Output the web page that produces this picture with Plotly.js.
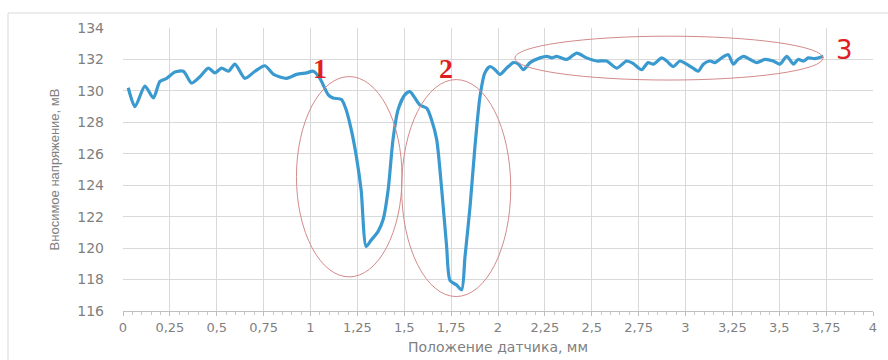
<!DOCTYPE html>
<html>
<head>
<meta charset="utf-8">
<script src="https://cdn.plot.ly/plotly-3.0.1.min.js"></script>
<style>html,body{margin:0;padding:0;background:#fff;}#chart{width:888px;height:360px;}</style>
</head>
<body>
<div id="chart"></div>
<script>
// Sensor position, mm
const positionMm = [0.028,0.064,0.117,0.162,0.197,0.233,0.277,0.322,0.366,0.41,0.455,0.49,0.526,0.562,0.597,0.65,0.704,0.757,0.803,0.873,0.926,0.98,1.015,1.05,1.095,1.12,1.165,1.19,1.217,1.245,1.27,1.297,1.323,1.36,1.387,1.414,1.44,1.467,1.503,1.53,1.557,1.584,1.62,1.646,1.673,1.7,1.726,1.744,1.779,1.806,1.824,1.851,1.877,1.904,1.93,1.957,1.984,2.01,2.046,2.082,2.109,2.135,2.171,2.224,2.26,2.287,2.313,2.367,2.42,2.473,2.527,2.58,2.633,2.686,2.72,2.766,2.8,2.829,2.873,2.9,2.935,2.97,3.006,3.04,3.068,3.095,3.13,3.157,3.193,3.228,3.255,3.28,3.31,3.344,3.38,3.424,3.468,3.504,3.54,3.576,3.6,3.63,3.655,3.69,3.735];
// Insertion voltage, mV
const voltageMv = [130.2,129.0,130.3,129.55,130.6,130.8,131.2,131.25,130.5,130.9,131.45,131.15,131.45,131.25,131.7,130.8,131.25,131.6,131.05,130.8,131.05,131.15,131.25,130.8,129.75,129.55,129.45,128.8,127.55,125.8,123.7,120.1,120.5,121.05,121.8,123.7,126.9,128.8,129.75,129.95,129.55,129.1,128.9,128.15,126.9,123.7,120.1,117.95,117.65,117.35,119.45,122.65,126.45,129.65,131.15,131.55,131.35,131.05,131.45,131.8,131.7,131.35,131.8,132.1,132.2,132.1,132.2,132.0,132.4,132.1,131.9,131.9,131.45,131.9,131.75,131.35,131.8,131.7,132.1,131.9,131.55,131.9,131.7,131.45,131.25,131.7,131.9,131.8,132.1,132.3,131.7,132.0,132.2,132.0,131.8,132.0,131.9,131.7,132.2,131.7,132.0,131.9,132.1,132.05,132.2];

const xTickVals = [0,0.25,0.5,0.75,1,1.25,1.5,1.75,2,2.25,2.5,2.75,3,3.25,3.5,3.75,4];
const xTickText = ["0","0,25","0,5","0,75","1","1,25","1,5","1,75","2","2,25","2,5","2,75","3","3,25","3,5","3,75","4"];
const yTickVals = [116,118,120,122,124,126,128,130,132,134];
const yTickText = ["116","118","120","122","124","126","128","130","132","134"];

const regionLabels = ["1","2","3"];
const regionLabelX = [1.05,1.723,3.85];
const regionLabelY = [131.45,131.45,132.6];
// Ellipse bounds [x0,x1,y0,y1]
const regionX0 = [0.925,1.486,2.09];
const regionX1 = [1.488,2.068,3.733];
const regionY0 = [118.17,116.92,130.69];
const regionY1 = [130.91,130.72,133.48];

const trace = {
  x: positionMm, y: voltageMv, type: 'scatter', mode: 'lines',
  line: {color: '#3a9ad0', width: 3.2, shape: 'spline', smoothing: 0.7},
  hoverinfo: 'skip'
};

const shapes = [{
  type: 'rect', xref: 'paper', yref: 'paper',
  x0: (8-123)/750, x1: (895-123)/750, y0: (311-370)/283, y1: 1 + (28-13)/283,
  line: {color: '#d9d9d9', width: 1}, fillcolor: 'rgba(0,0,0,0)', layer: 'below'
}];
for (let i = 0; i < regionLabels.length; i++) {
  shapes.push({type: 'circle', xref: 'x', yref: 'y',
    x0: regionX0[i], x1: regionX1[i], y0: regionY0[i], y1: regionY1[i],
    line: {color: '#d48a8a', width: 1}});
}
const annotations = regionLabels.map((t, i) => ({
  x: regionLabelX[i], y: regionLabelY[i], xref: 'x', yref: 'y',
  text: i < 2 ? '<b>' + t + '</b>' : t, showarrow: false,
  font: i < 2 ? {family: 'Liberation Serif, DejaVu Serif, serif', size: 28, color: '#e02020'}
              : {family: 'DejaVu Sans, sans-serif', size: 26, color: '#e02020'}
}));

const tickFont = {family: 'DejaVu Sans, sans-serif', size: 13, color: '#7f7f7f'};
const layout = {
  width: 888, height: 360,
  margin: {l: 123, r: 15, t: 28, b: 49},
  paper_bgcolor: '#ffffff', plot_bgcolor: '#ffffff',
  showlegend: false,
  separators: ', ',
  xaxis: {
    range: [0, 4], tickvals: xTickVals, ticktext: xTickText,
    showgrid: true, gridcolor: '#d9d9d9', gridwidth: 1,
    showline: true, linecolor: '#bfbfbf', linewidth: 1,
    ticks: 'outside', ticklen: 4, tickcolor: '#bfbfbf',
    minor: {dtick: 0.05, ticks: 'outside', ticklen: 3, tickcolor: '#c8c8c8', showgrid: false},
    tickfont: tickFont, zeroline: false,
    title: {text: 'Положение датчика, мм', font: {family: 'DejaVu Sans, sans-serif', size: 14, color: '#7f7f7f'}, standoff: 8}
  },
  yaxis: {
    range: [116, 134], tickvals: yTickVals, ticktext: yTickText,
    showgrid: true, gridcolor: '#d9d9d9', gridwidth: 1,
    showline: false, ticks: '', ticklabelstandoff: 18,
    tickfont: {family: 'DejaVu Sans, sans-serif', size: 14, color: '#7f7f7f'}, zeroline: false,
    title: {text: 'Вносимое напряжение, мВ', font: {family: 'Liberation Sans Narrow, Liberation Sans, sans-serif', size: 13, color: '#7f7f7f'}, standoff: 14}
  },
  shapes: shapes,
  annotations: annotations
};

Plotly.newPlot('chart', [trace], layout, {displayModeBar: false, staticPlot: true});
</script>
</body>
</html>
